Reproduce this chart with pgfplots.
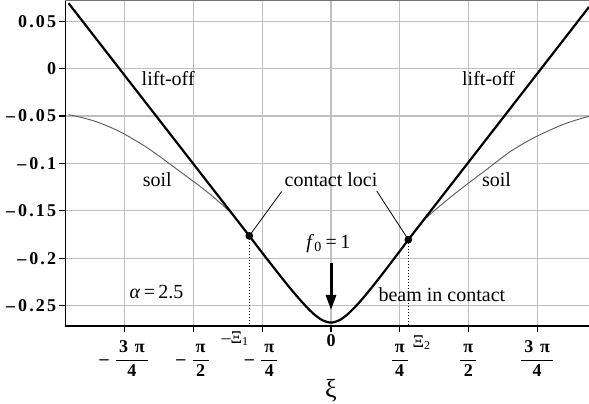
\documentclass[border=0pt]{standalone}
\usepackage{pgfplots}
\pgfplotsset{compat=1.18}
\usetikzlibrary{arrows.meta}
\usepackage{fontspec}
\setmainfont{Liberation Serif}
\newfontfamily\tickfont[LetterSpace=12]{Liberation Serif}
\newcommand{\fr}[2]{\rule{0pt}{15pt}$\displaystyle\frac{\mbox{\,#1\,}}{\mbox{#2}}$}
\newcommand{\annot}{\fontsize{10}{11}\selectfont}

\begin{document}
\begin{tikzpicture}
\begin{axis}[
    scale only axis,
    width=261.75pt, height=163pt,
    xmin=-3.035, xmax=2.949,
    ymin=-0.2716, ymax=0.0724,
    axis x line*=bottom, axis y line*=left,
    axis line style={black, line width=0.7pt},
    clip mode=individual,
    xtick={-2.35619,-1.5708,-0.7854,0,0.7854,1.5708,2.35619},
    xticklabels={
        {–\;\fr{3 π}{4}},
        {–\;\fr{π}{2}},
        {–\;\fr{π}{4}},
        {0},
        {\fr{π}{4}},
        {\fr{π}{2}},
        {\fr{3 π}{4}}},
    ytick={-0.25,-0.2,-0.15,-0.1,-0.05,0,0.05},
    yticklabels={
        {–\,0.25},{–\,0.2},{–\,0.15},{–\,0.1},{–\,0.05},{0},{0.05}},
    tick label style={font=\tickfont\bfseries\fontsize{9}{10}\selectfont},
    xticklabel style={anchor=north, inner sep=1pt},
    yticklabel style={inner sep=1.5pt},
    tick align=outside,
    major tick length=3pt,
    tick style={black, line width=0.6pt},
    grid=major,
    major grid style={line width=0.6pt, color=black!25},
    xlabel={\fontsize{13}{14}\selectfont ξ},
    xlabel style={at={(rel axis cs:0.5072,0)}, anchor=center, yshift=-32.5pt},
]

% soil surface
\addplot[black!65, line width=0.45pt, smooth] coordinates {
    (-3.0,-0.0486) (-2.85,-0.0516) (-2.7,-0.0555) (-2.55,-0.0608)
    (-2.4,-0.0672) (-2.25,-0.0750) (-2.1,-0.0835) (-1.95,-0.0933)
    (-1.8,-0.1035) (-1.65,-0.1138) (-1.5,-0.124) (-1.3,-0.139)
    (-1.1,-0.1565) (-0.934,-0.1765) (-0.8,-0.1927) (-0.7,-0.2046)
    (-0.6,-0.2164) (-0.5,-0.2280) (-0.4,-0.2391) (-0.3,-0.2495)
    (-0.2,-0.2587) (-0.1,-0.2654) (0,-0.268)
    (0.1,-0.2653) (0.2,-0.2584) (0.3,-0.2491) (0.4,-0.2384)
    (0.5,-0.2270) (0.6,-0.2152) (0.7,-0.2031) (0.8,-0.1909)
    (0.884,-0.1805) (1.05,-0.161) (1.25,-0.1445) (1.45,-0.1295)
    (1.6,-0.1188) (1.75,-0.1085) (1.9,-0.0978) (2.05,-0.0875)
    (2.2,-0.0790) (2.35,-0.0715) (2.5,-0.0650) (2.65,-0.059)
    (2.8,-0.0543) (2.949,-0.0503)
};

% beam deflection
\addplot[black, line width=1.1pt] coordinates {
    (-3.0,0.069) (-0.934,-0.1765)
};
\addplot[black, line width=1.1pt, smooth] coordinates {
    (-0.934,-0.1765) (-0.8,-0.1927) (-0.7,-0.2046) (-0.6,-0.2164)
    (-0.5,-0.2280) (-0.4,-0.2391) (-0.3,-0.2495) (-0.2,-0.2587)
    (-0.1,-0.2654) (0,-0.268) (0.1,-0.2653) (0.2,-0.2584)
    (0.3,-0.2491) (0.4,-0.2384) (0.5,-0.2270) (0.6,-0.2152)
    (0.7,-0.2031) (0.8,-0.1909) (0.884,-0.1805)
};
\addplot[black, line width=1.1pt] coordinates {
    (0.884,-0.1805) (2.949,0.065)
};

% contact loci
\addplot[black, densely dotted, line width=0.5pt] coordinates {(-0.934,-0.1765) (-0.934,-0.2716)};
\addplot[black, densely dotted, line width=0.5pt] coordinates {(0.884,-0.1805) (0.884,-0.2716)};
\addplot[black, line width=0.4pt] coordinates {(-0.564,-0.1297) (-0.934,-0.1765)};
\addplot[black, line width=0.4pt] coordinates {(0.522,-0.129) (0.884,-0.1805)};
\addplot[only marks, mark=*, mark size=1.7pt, black] coordinates {(-0.934,-0.1765) (0.884,-0.1805)};

% top frame
\draw[black!55, line width=0.6pt] (rel axis cs:0,1) -- (rel axis cs:1,1);

% load arrow
\draw[line width=1.5pt, -{Triangle[width=5pt,length=7.5pt]}]
    (axis cs:0,-0.2054) -- (axis cs:0,-0.2547);

% annotations
\node[font=\annot] at (axis cs:-1.861,-0.0108) {lift-off};
\node[font=\annot] at (axis cs:1.802,-0.0108) {lift-off};
\node[font=\annot] at (axis cs:-1.985,-0.1173) {soil};
\node[font=\annot] at (axis cs:1.892,-0.1173) {soil};
\node[font=\annot] at (axis cs:0,-0.1173) {contact loci};
\node[font=\annot] at (axis cs:-0.03,-0.1842) {\textit{f}\textsubscript{0}\,=\,1};
\node[font=\annot, anchor=west, inner sep=0pt] at (axis cs:0.539,-0.2388) {beam in contact};
\node[font=\annot] at (axis cs:-1.994,-0.2354) {\textit{α}\,=\,2.5};
\node[font=\fontsize{9}{10}\selectfont] at (axis cs:-1.093,-0.2854) {–Ξ\textsubscript{1}};
\node[font=\fontsize{9}{10}\selectfont] at (axis cs:1.038,-0.2896) {Ξ\textsubscript{2}};

\end{axis}
\pgfresetboundingbox
\path (-32.75pt,-38.5pt) rectangle (261.75pt,163pt);
\end{tikzpicture}
\end{document}
